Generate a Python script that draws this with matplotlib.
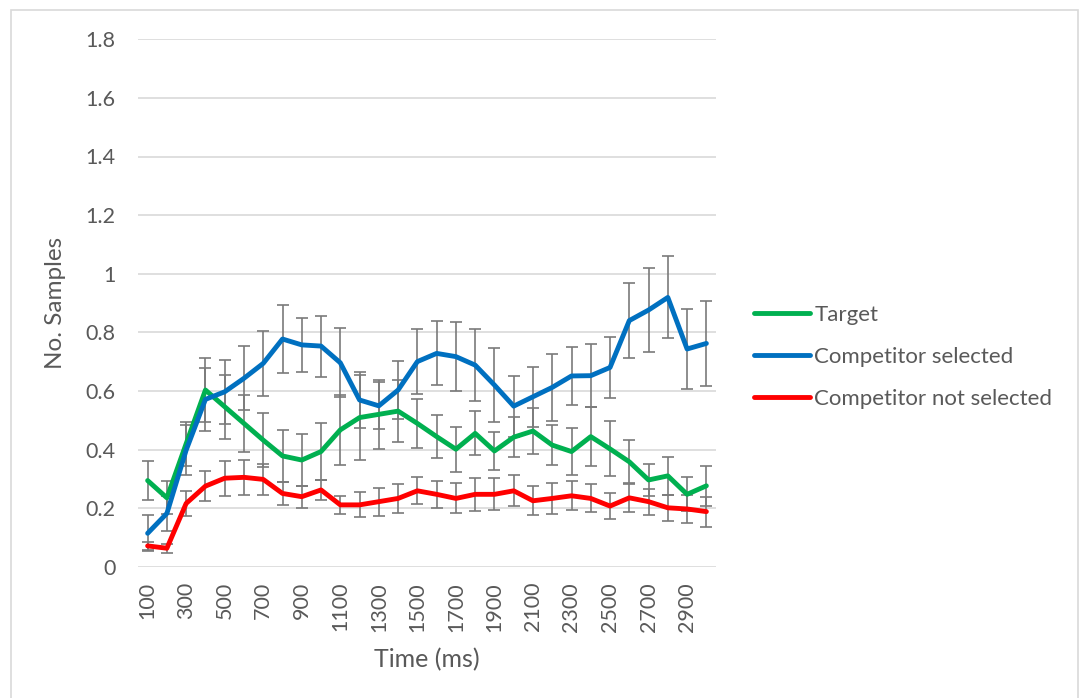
import matplotlib
matplotlib.use("Agg")
import matplotlib.pyplot as plt
from matplotlib.patches import Rectangle

# time bins (ms) and mean samples per condition, with error half-widths
time_ms = list(range(100, 3001, 100))

target = [0.294, 0.235, 0.420, 0.603, 0.546, 0.489, 0.432, 0.378, 0.364, 0.393,
          0.467, 0.509, 0.520, 0.531, 0.489, 0.444, 0.401, 0.455, 0.395, 0.442,
          0.463, 0.415, 0.393, 0.444, 0.402, 0.358, 0.296, 0.310, 0.247, 0.276]
target_err = [0.067, 0.056, 0.075, 0.109, 0.109, 0.096, 0.092, 0.089, 0.090, 0.097,
              0.119, 0.145, 0.118, 0.105, 0.085, 0.073, 0.077, 0.075, 0.065, 0.069,
              0.078, 0.068, 0.080, 0.100, 0.094, 0.073, 0.056, 0.065, 0.058, 0.069]

comp_sel = [0.114, 0.182, 0.398, 0.571, 0.597, 0.643, 0.694, 0.777, 0.757, 0.753,
            0.696, 0.569, 0.549, 0.603, 0.700, 0.728, 0.717, 0.688, 0.620, 0.548,
            0.580, 0.612, 0.651, 0.652, 0.680, 0.840, 0.876, 0.919, 0.743, 0.762]
comp_sel_err = [0.061, 0.060, 0.084, 0.108, 0.110, 0.109, 0.110, 0.116, 0.092, 0.104,
                0.118, 0.097, 0.080, 0.100, 0.110, 0.109, 0.118, 0.122, 0.126, 0.104,
                0.102, 0.114, 0.100, 0.108, 0.104, 0.129, 0.142, 0.140, 0.137, 0.144]

comp_not = [0.071, 0.063, 0.216, 0.275, 0.302, 0.305, 0.298, 0.250, 0.239, 0.262,
            0.211, 0.211, 0.222, 0.233, 0.259, 0.247, 0.233, 0.247, 0.247, 0.259,
            0.225, 0.233, 0.242, 0.233, 0.207, 0.235, 0.222, 0.201, 0.197, 0.188]
comp_not_err = [0.015, 0.015, 0.044, 0.051, 0.059, 0.060, 0.052, 0.039, 0.037, 0.034,
                0.032, 0.043, 0.048, 0.049, 0.046, 0.047, 0.051, 0.057, 0.055, 0.053,
                0.050, 0.052, 0.049, 0.048, 0.044, 0.047, 0.044, 0.044, 0.047, 0.051]

series = [
    ("Target", target, target_err, "#00B050"),
    ("Competitor selected", comp_sel, comp_sel_err, "#0070C0"),
    ("Competitor not selected", comp_not, comp_not_err, "#FF0000"),
]

TXT = "#595959"
plt.rcParams["font.family"] = ["Lato", "DejaVu Sans"]

W, H = 1081, 698
fig = plt.figure(figsize=(W / 100, H / 100), dpi=100)
ax = fig.add_axes([138 / W, (H - 566.7) / H, (716 - 138) / W, (566.7 - 39.3) / H])

# chart frame
fig.patches.append(Rectangle((11 / W, -0.05), (1078 - 11) / W, (H - 10) / H + 0.05,
                             transform=fig.transFigure, fill=False,
                             edgecolor="#D9D9D9", lw=1.2))

for name, vals, err, col in series:
    ax.errorbar(time_ms, vals, yerr=err, fmt="none", ecolor="#7A7A7A",
                elinewidth=1.2, capsize=4.5, capthick=1.2, zorder=3)
for name, vals, err, col in series:
    ax.plot(time_ms, vals, color=col, lw=3.5, label=name,
            solid_capstyle="round", solid_joinstyle="round", zorder=4)

ax.set_xlim(50, 3050)
ax.set_ylim(0, 1.8)
ax.set_yticks([0, 0.2, 0.4, 0.6, 0.8, 1.0, 1.2, 1.4, 1.6, 1.8])
ax.set_yticklabels(["0", "0.2", "0.4", "0.6", "0.8", "1", "1.2", "1.4", "1.6", "1.8"])
ax.set_xticks(time_ms[::2])
ax.set_xticklabels([str(t) for t in time_ms[::2]], rotation=90)
ax.tick_params(length=0, labelsize=15.5, labelcolor=TXT)
ax.tick_params(axis="y", pad=16)
ax.tick_params(axis="x", pad=11)
ax.grid(axis="y", color="#D9D9D9", lw=1.2)
ax.set_axisbelow(True)
for s in ax.spines.values():
    s.set_visible(False)

ax.set_ylabel("No. Samples", fontsize=17.5, color=TXT, labelpad=14)
ax.set_xlabel("Time (ms)", fontsize=18, color=TXT, labelpad=12)

ax.legend(loc="center left", bbox_to_anchor=(734 / W, (H - 357) / H),
          bbox_transform=fig.transFigure, frameon=False, fontsize=16,
          labelcolor=TXT, handlelength=2.5, handletextpad=0.22,
          labelspacing=1.0)

fig.savefig("out.png", dpi=100)
